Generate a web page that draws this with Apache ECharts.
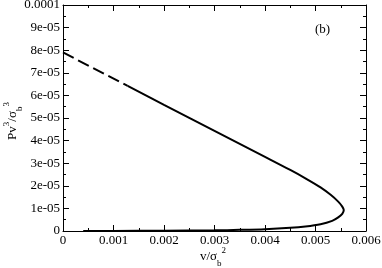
<!DOCTYPE html>
<html>
<head>
<meta charset="utf-8">
<script src="https://cdn.jsdelivr.net/npm/echarts@6/dist/echarts.min.js"></script>
<style>
  html, body { margin: 0; padding: 0; background: #fff; }
  #chart { width: 382px; height: 268px; }
</style>
</head>
<body>
<div id="chart"></div>
<script>
// dashed start of the upper branch (v, P)
const dashV = [0, 0.00128];
const dashP = [7.9e-5, 6.42e-5];
// solid part: upper branch, nose, lower branch back to near zero
const solidV = [0.00128, 0.002, 0.003, 0.004, 0.0045, 0.0048, 0.0051, 0.0053, 0.00545, 0.00553, 0.00556,
  0.00553, 0.00545, 0.00533, 0.0051, 0.0048, 0.0045, 0.004, 0.0035, 0.003, 0.002, 0.001, 0.0004];
const solidP = [6.42e-5, 5.58e-5, 4.43e-5, 3.28e-5, 2.70e-5, 2.33e-5, 1.93e-5, 1.60e-5, 1.30e-5, 1.08e-5, 0.93e-5,
  0.76e-5, 0.60e-5, 0.45e-5, 0.30e-5, 0.20e-5, 0.14e-5, 0.08e-5, 0.05e-5, 0.03e-5, 0.01e-5, 0.003e-5, 0];
const xTicks = ['0', '0.001', '0.002', '0.003', '0.004', '0.005', '0.006'];

const FONT = 'Liberation Serif';
const pairs = (xs, ys) => xs.map((x, i) => [x, ys[i]]);

const chart = echarts.init(document.getElementById('chart'));

function frameAxis(extra) {
  return Object.assign({
    axisLine: { show: true, onZero: false, lineStyle: { color: '#000', width: 1 } },
    axisTick: { show: true, inside: true, length: 6, lineStyle: { color: '#000' } },
    minorTick: { show: true, splitNumber: 2, length: 3, lineStyle: { color: '#000' } },
    splitLine: { show: false },
    minorSplitLine: { show: false }
  }, extra);
}

const nameRich = {
  n: { fontFamily: FONT, fontSize: 13, fill: '#000', verticalAlign: 'middle', lineHeight: 22 },
  sub: { fontFamily: FONT, fontSize: 9, fill: '#000', verticalAlign: 'bottom', lineHeight: 22 },
  sup: { fontFamily: FONT, fontSize: 9, fill: '#000', verticalAlign: 'top', lineHeight: 22 }
};

chart.setOption({
  animation: false,
  grid: { left: 63, right: 16, top: 5, bottom: 37, containLabel: false, outerBoundsMode: 'none' },
  xAxis: [
    frameAxis({
      type: 'value', min: 0, max: 0.006, interval: 0.001,
      axisLabel: {
        color: '#000', fontFamily: FONT, fontSize: 13, margin: 3,
        formatter: v => xTicks[Math.round(v / 0.001)]
      }
    }),
    frameAxis({
      type: 'value', min: 0, max: 0.006, interval: 0.001, position: 'top',
      axisLabel: { show: false }
    })
  ],
  yAxis: [
    frameAxis({
      type: 'value', min: 0, max: 1e-4, interval: 1e-5,
      axisLabel: {
        color: '#000', fontFamily: FONT, fontSize: 13, margin: 3,
        formatter: v => {
          const n = Math.round(v / 1e-5);
          if (n === 0) return '0';
          if (n === 10) return '0.0001';
          return n + 'e-05';
        }
      }
    }),
    frameAxis({
      type: 'value', min: 0, max: 1e-4, interval: 1e-5, position: 'right',
      axisLabel: { show: false }
    })
  ],
  graphic: [
    {
      type: 'text', x: 213, y: 257,
      style: { text: '{n|v/σ}{sub|b}{sup|2}', rich: nameRich, align: 'center', verticalAlign: 'middle' }
    },
    {
      type: 'text', x: 13, y: 121, rotation: Math.PI / 2,
      style: { text: '{n|Pv}{sup|3}{n|/σ}{sub|b}{sup|3}', rich: nameRich, align: 'center', verticalAlign: 'middle' }
    },
    {
      type: 'text', left: 315, top: 23,
      style: { text: '(b)', font: '13px "Liberation Serif"', fill: '#000' }
    }
  ],
  series: [
    {
      type: 'line', data: pairs(dashV, dashP), showSymbol: false,
      lineStyle: { color: '#000', width: 2, type: [12, 5] }
    },
    {
      type: 'line', data: pairs(solidV, solidP), showSymbol: false, smooth: 0.3,
      lineStyle: { color: '#000', width: 2 }
    }
  ]
});
</script>
</body>
</html>
